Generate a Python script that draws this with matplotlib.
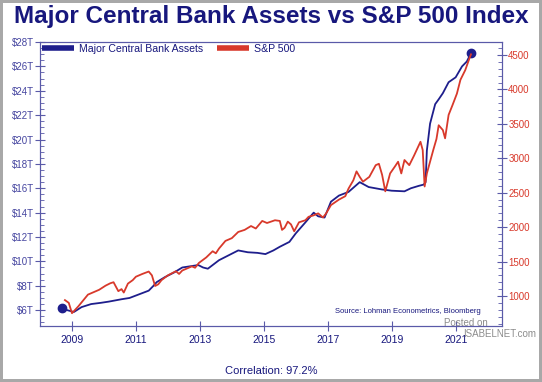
import numpy as np
import matplotlib
matplotlib.use("Agg")
import matplotlib.pyplot as plt
from matplotlib.ticker import MultipleLocator, FuncFormatter

plt.rcParams['font.family'] = ['Liberation Sans', 'DejaVu Sans']

# major central bank assets, trillions USD (left axis)
bank_years = [2008.68, 2008.85, 2009.06, 2009.3, 2009.6, 2009.9, 2010.15, 2010.56, 2010.8,
              2011.0, 2011.4, 2011.55, 2011.65, 2011.9, 2012.2, 2012.45, 2012.7, 2012.95,
              2013.1, 2013.25, 2013.6, 2013.9, 2014.2, 2014.5, 2014.8, 2015.05, 2015.3,
              2015.5, 2015.8, 2016.0, 2016.3, 2016.56, 2016.7, 2016.9, 2017.1, 2017.35,
              2017.65, 2018.0, 2018.28, 2018.7, 2019.0, 2019.4, 2019.6, 2019.85, 2020.0,
              2020.06, 2020.1, 2020.2, 2020.36, 2020.47, 2020.6, 2020.78, 2021.0, 2021.2,
              2021.35, 2021.48]
bank_assets = [6.15, 6.0, 5.85, 6.25, 6.5, 6.6, 6.7, 6.9, 7.0,
               7.2, 7.6, 8.0, 8.3, 8.7, 9.1, 9.5, 9.6, 9.7,
               9.5, 9.4, 10.1, 10.5, 10.9, 10.75, 10.7, 10.6, 10.9,
               11.2, 11.6, 12.3, 13.2, 14.0, 13.7, 13.6, 14.9, 15.4,
               15.7, 16.5, 16.1, 15.9, 15.8, 15.75, 16.0, 16.2, 16.3,
               16.5, 19.1, 21.3, 22.9, 23.3, 23.8, 24.7, 25.1, 26.0,
               26.4, 27.1]

# S&P 500 index (right axis)
sp_years = [2008.78, 2008.9, 2009.0, 2009.2, 2009.5, 2009.7, 2009.85, 2010.05, 2010.2,
            2010.3, 2010.45, 2010.55, 2010.62, 2010.75, 2010.9, 2011.0, 2011.2, 2011.4,
            2011.5, 2011.6, 2011.7, 2011.8, 2012.0, 2012.25, 2012.35, 2012.45, 2012.55,
            2012.75, 2012.85, 2012.97, 2013.2, 2013.4, 2013.5, 2013.6, 2013.8, 2014.0,
            2014.2, 2014.4, 2014.6, 2014.75, 2014.95, 2015.1, 2015.35, 2015.5, 2015.57,
            2015.65, 2015.75, 2015.85, 2015.95, 2016.1, 2016.3, 2016.4, 2016.55, 2016.7,
            2016.85, 2016.95, 2017.1, 2017.35, 2017.55, 2017.65, 2017.8, 2017.9, 2018.0,
            2018.1, 2018.3, 2018.5, 2018.6, 2018.7, 2018.8, 2018.95, 2019.1, 2019.2,
            2019.3, 2019.4, 2019.55, 2019.7, 2019.8, 2019.9, 2019.97, 2020.03, 2020.1,
            2020.2, 2020.3, 2020.4, 2020.47, 2020.6, 2020.67, 2020.78, 2020.9, 2021.04,
            2021.15, 2021.3, 2021.43, 2021.48]
sp500 = [940, 900, 750, 850, 1020, 1060, 1090, 1150, 1185,
         1200, 1070, 1100, 1050, 1180, 1230, 1280, 1320, 1355,
         1300, 1145, 1170, 1230, 1300, 1360, 1320, 1370, 1390,
         1430, 1410, 1480, 1560, 1650, 1620, 1690, 1800, 1840,
         1930, 1960, 2016, 1980, 2090, 2060, 2100, 2090, 1960,
         1990, 2080, 2040, 1940, 2070, 2100, 2150, 2170, 2200,
         2140, 2200, 2320, 2400, 2450, 2560, 2680, 2810, 2730,
         2660, 2730, 2900, 2920, 2760, 2520, 2780, 2880, 2950,
         2780, 2975, 2900, 3040, 3140, 3240, 3120, 2590, 2780,
         2950, 3120, 3280, 3480, 3410, 3290, 3630, 3770, 3940,
         4140, 4280, 4450, 4510]

year_ticks = [2009, 2011, 2013, 2015, 2017, 2019, 2021]

navy = '#17177d'
blue = '#1e1e8c'
red = '#d8392b'
axis_col = '#5a5aa8'

fig = plt.figure(figsize=(5.42, 3.82), dpi=100)
fig.patch.set_facecolor('white')
fig.patch.set_edgecolor('#a8a8a8')
fig.patch.set_linewidth(3)
ax = fig.add_axes([40 / 542, 1 - 326 / 382, 462 / 542, 284 / 382])
ax2 = ax.twinx()

ax.plot(bank_years, bank_assets, color=blue, lw=1.3, zorder=3)
ax.plot([bank_years[0], bank_years[-1]], [bank_assets[0], bank_assets[-1]], 'o',
        color=blue, ms=6, zorder=4)
ax2.plot(sp_years, sp500, color=red, lw=1.3, zorder=2)

ax.set_xlim(2008.0, 2022.45)
ax.set_ylim(4.7, 28.0)
ax2.set_ylim(564, 4689)

ax.set_xticks(year_ticks)
ax.set_xticklabels([str(y) for y in year_ticks])
ax.yaxis.set_major_locator(MultipleLocator(2))
ax.yaxis.set_minor_locator(MultipleLocator(0.5))
ax.yaxis.set_major_formatter(FuncFormatter(lambda v, p: '$%dT' % v))
ax2.yaxis.set_major_locator(MultipleLocator(500))
ax2.yaxis.set_minor_locator(MultipleLocator(100))

for s in ax.spines.values():
    s.set_color(axis_col)
for s in ax2.spines.values():
    s.set_color(axis_col)

ax.tick_params(axis='x', which='major', direction='inout', length=7, color=axis_col,
               labelcolor=navy, labelsize=7.5, pad=3)
ax.tick_params(axis='y', which='major', direction='inout', length=7, color=axis_col,
               labelcolor='#4646a0', labelsize=7, pad=1)
ax.tick_params(axis='y', which='minor', direction='in', length=3, color=axis_col)
ax2.tick_params(axis='y', which='major', direction='inout', length=7, color=axis_col,
                labelcolor=red, labelsize=7, pad=1)
ax2.tick_params(axis='y', which='minor', direction='in', length=3, color=axis_col)

# legend handles
h1, = ax.plot([], [], color=blue, lw=4, solid_capstyle='butt')
h2, = ax.plot([], [], color=red, lw=4, solid_capstyle='butt')
leg = ax.legend([h1, h2], ['Major Central Bank Assets', 'S&P 500'], loc='upper left',
                ncol=2, frameon=False, fontsize=7.6, handlelength=3.0, columnspacing=1.4,
                handletextpad=0.45, borderaxespad=0.1, borderpad=0.1)
for t in leg.get_texts():
    t.set_color(navy)

fig.text(0.5, 1 - 17 / 382, 'Major Central Bank Assets vs S&P 500 Index', ha='center',
         va='center', fontsize=17.5, fontweight='bold', color=navy)
fig.text(0.5, 1 - 371 / 382, 'Correlation: 97.2%', ha='center', va='center',
         fontsize=8, color=navy)
ax.text(0.955, 0.05, 'Source: Lohman Econometrics, Bloomberg', transform=ax.transAxes,
        ha='right', va='center', fontsize=5.5, color=navy)
fig.text(466 / 542, 1 - 323 / 382, 'Posted on', ha='center', va='center',
         fontsize=7, color='#8c8c8c')
fig.text(536 / 542, 1 - 334 / 382, 'ISABELNET.com', ha='right', va='center',
         fontsize=7, color='#8c8c8c')

fig.savefig('out.png', dpi=100)
